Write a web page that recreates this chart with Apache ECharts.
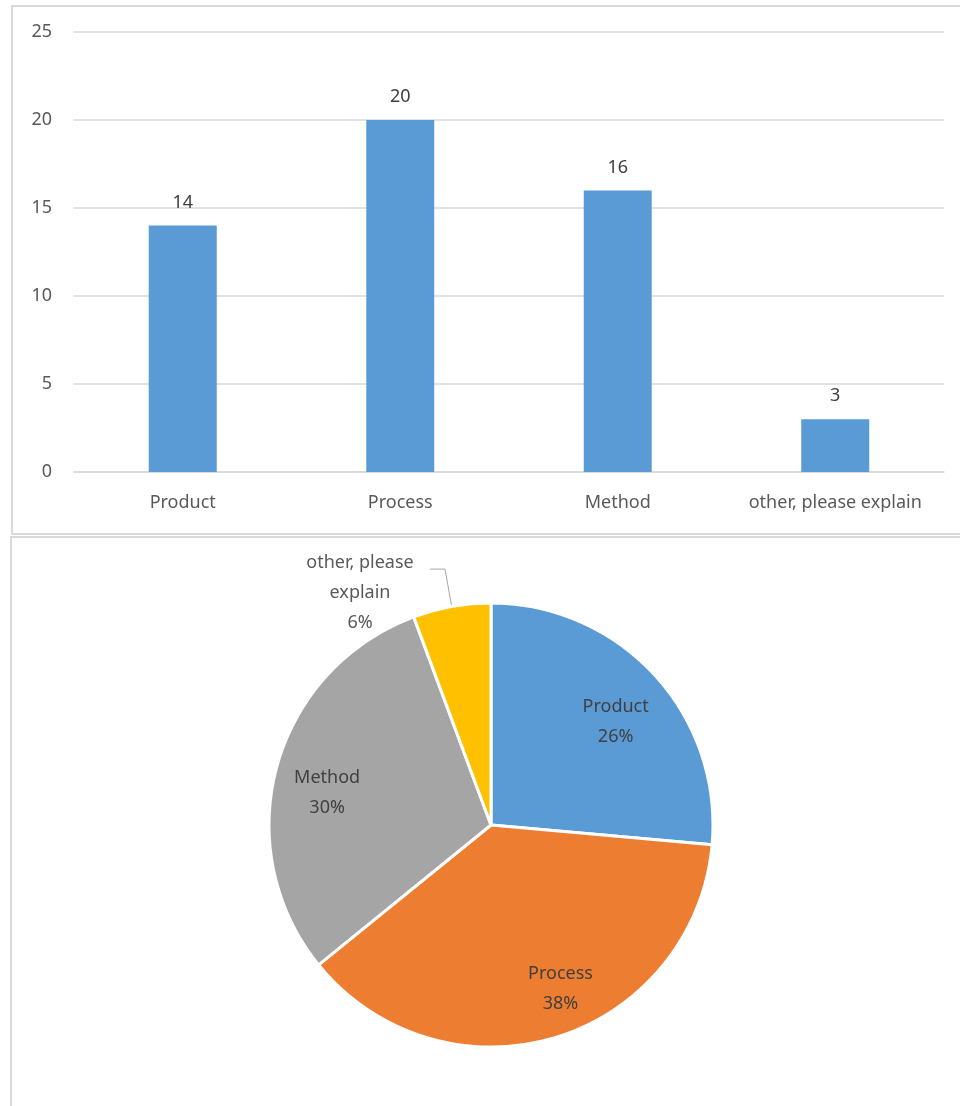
<!DOCTYPE html>
<html>
<head>
    <meta charset="UTF-8">
    <title>Innovation types</title>
    <script src="https://cdn.jsdelivr.net/npm/echarts/dist/echarts.min.js"></script>
    <style>
        body { margin: 0; background: #fff; }
        #main { width: 960px; height: 1106px; }
    </style>
</head>
<body>
    <div id="main"></div>
    <script>
        // data
        var categories = ['Product', 'Process', 'Method', 'other, please explain'];
        var counts = [14, 20, 16, 3];
        var pieNames = ['Product', 'Process', 'Method', 'other, please\nexplain'];
        var colors = ['#5B9BD5', '#ED7D31', '#A5A5A5', '#FFC000'];
        // small nudges of the inside pie labels (Excel doesn't put them on the mid angle)
        var labelNudge = [[-3, 14], [19, -2], [3, 13], [0, 0]];

        var myChart = echarts.init(document.getElementById('main'));
        var font = "'Noto Sans', sans-serif";

        var pieData = counts.map(function (v, i) {
            return { value: v, name: pieNames[i], itemStyle: { color: colors[i] } };
        });

        var option = {
            backgroundColor: '#fff',
            animation: false,
            graphic: [
                { type: 'rect', shape: { x: 12, y: 6, width: 960, height: 528 },
                  style: { fill: 'none', stroke: '#d9d9d9', lineWidth: 2 }, z: -1 },
                { type: 'rect', shape: { x: 11, y: 537, width: 960, height: 600 },
                  style: { fill: 'none', stroke: '#d9d9d9', lineWidth: 2 }, z: -1 }
            ],
            grid: { left: 74, right: 16, top: 32, bottom: 634 },
            xAxis: {
                type: 'category',
                data: categories,
                axisTick: { show: false },
                axisLine: { lineStyle: { color: '#d9d9d9', width: 1.5 } },
                axisLabel: { color: '#595959', fontSize: 18, fontFamily: font, margin: 22,
                             interval: 0, hideOverlap: false }
            },
            yAxis: {
                type: 'value',
                min: 0, max: 25, interval: 5,
                axisLabel: { color: '#595959', fontSize: 18, fontFamily: font, margin: 22 },
                splitLine: { lineStyle: { color: '#d9d9d9', width: 1.5 } }
            },
            series: [
                {
                    type: 'bar',
                    data: counts,
                    barWidth: 68,
                    itemStyle: { color: '#5B9BD5' },
                    label: { show: true, position: 'top', distance: 14, color: '#404040',
                             fontSize: 18, fontFamily: font }
                },
                {
                    type: 'pie',
                    center: [491, 825],
                    radius: [0, 222],
                    startAngle: 90,
                    clockwise: true,
                    data: pieData.map(function (d, i) {
                        var o = { value: d.value, name: d.name, itemStyle: d.itemStyle };
                        if (i === 3) {
                            o.label = { show: true };
                            o.labelLine = { show: true };
                        }
                        return o;
                    }),
                    itemStyle: { borderColor: '#fff', borderWidth: 3 },
                    label: {
                        show: false,
                        position: 'outside',
                        formatter: function (p) {
                            var lines = (p.name + '\n' + Math.round(p.percent) + '%').split('\n');
                            return lines.map(function (s) { return '{a|' + s + '}'; }).join('\n');
                        },
                        rich: {
                            a: { width: 130, align: 'center', color: '#595959', fontSize: 18,
                                 fontFamily: font, lineHeight: 30 }
                        }
                    },
                    labelLine: { show: false, length: 38, length2: 15,
                                 lineStyle: { color: '#a6a6a6', width: 1 } },
                    labelLayout: { dy: 24 }
                },
                {
                    type: 'pie',
                    center: [491, 825],
                    radius: [0, 340],
                    startAngle: 90,
                    clockwise: true,
                    silent: true,
                    z: 5,
                    data: pieData.map(function (d, i) {
                        return { value: d.value, name: d.name,
                                 label: { show: i < 3 } };
                    }),
                    itemStyle: { color: 'rgba(0,0,0,0)', borderWidth: 0 },
                    label: {
                        position: 'inside',
                        formatter: function (p) { return p.name + '\n' + Math.round(p.percent) + '%'; },
                        color: '#404040', fontSize: 18, fontFamily: font, lineHeight: 30
                    },
                    labelLine: { show: false },
                    labelLayout: function (params) {
                        var n = labelNudge[params.dataIndex];
                        return { dx: n[0], dy: n[1] };
                    }
                }
            ]
        };

        myChart.setOption(option);
    </script>
</body>
</html>
